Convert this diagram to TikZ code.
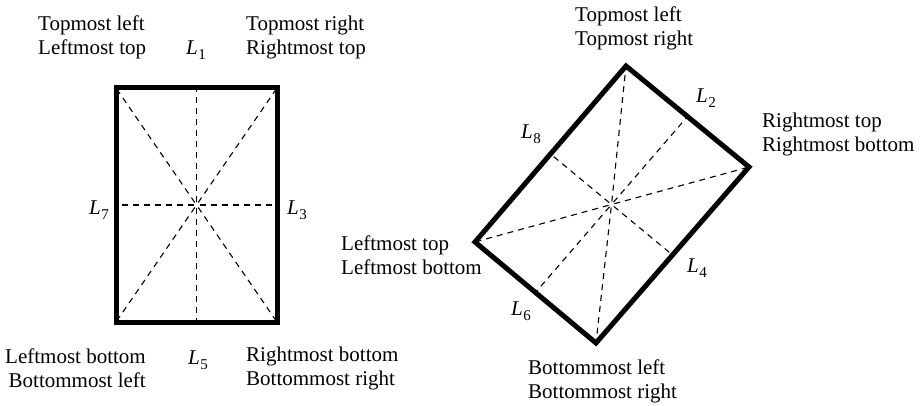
\documentclass[tikz,border=0pt]{standalone}
\usepackage{fontspec}
\setmainfont{Liberation Serif}
\usetikzlibrary{calc}
\newcommand{\Lab}[1]{\textit{L}\kern0.5pt\raisebox{-5pt}{\fontsize{15}{15}\selectfont #1}}
\begin{document}
\begin{tikzpicture}[x=1pt,y=-1pt,
  frame/.style={line width=5pt, line join=miter},
  ray/.style={line width=1.1pt, dash pattern=on 6pt off 5pt},
  lbl/.style={font=\fontsize{21}{24}\selectfont, inner sep=0pt}]
\useasboundingbox (0,0) rectangle (921,406);
% left rectangle
\coordinate (a1) at (116,88);
\coordinate (a2) at (277,88);
\coordinate (a3) at (277,322);
\coordinate (a4) at (116,322);
\coordinate (ac) at (196.5,205);
\coordinate (am1) at (196.5,88);
\coordinate (am3) at (277,205);
\coordinate (am5) at (196.5,322);
\coordinate (am7) at (116,205);
\foreach \t in {a1,a2,a3,a4,am1,am3,am5,am7}
  \draw[ray] ($(ac)!3pt!(\t)$) -- (\t);
\draw[frame] (a1) -- (a2) -- (a3) -- (a4) -- cycle;
% right rectangle
\coordinate (b1) at (626,66);
\coordinate (b2) at (749,167);
\coordinate (b3) at (596,343);
\coordinate (b4) at (475,242);
\coordinate (bc) at (611.5,204.5);
\coordinate (bm2) at ($(b1)!0.5!(b2)$);
\coordinate (bm4) at ($(b2)!0.5!(b3)$);
\coordinate (bm6) at ($(b3)!0.5!(b4)$);
\coordinate (bm8) at ($(b4)!0.5!(b1)$);
\foreach \t in {b1,b2,b3,b4,bm2,bm4,bm6,bm8}
  \draw[ray] ($(bc)!3pt!(\t)$) -- (\t);
\draw[frame] (b1) -- (b2) -- (b3) -- (b4) -- cycle;
% left labels
\node[lbl, align=left, anchor=west] (tl) at (38,37) {Topmost left\\Leftmost top};
\node[lbl] (l1) at (196,50) {\Lab{1}};
\node[lbl, align=left, anchor=west] (tr) at (246,37) {Topmost right\\Rightmost top};
\node[lbl, anchor=east] (l7) at (109,210) {\Lab{7}};
\node[lbl, anchor=west] (l3) at (287,210) {\Lab{3}};
\node[lbl, align=right, anchor=east] (bl) at (146,368) {Leftmost bottom\\Bottommost left};
\node[lbl] (l5) at (198,360) {\Lab{5}};
\node[lbl, align=left, anchor=west] (br) at (246,368) {Rightmost bottom\\Bottommost right};
% right labels
\node[lbl, align=left, anchor=west] (rt) at (575,28) {Topmost left\\Topmost right};
\node[lbl] (l2) at (706,98) {\Lab{2}};
\node[lbl] (l8) at (531,134) {\Lab{8}};
\node[lbl, align=left, anchor=west] (rr) at (762,134) {Rightmost top\\Rightmost bottom};
\node[lbl, align=left, anchor=west] (rl) at (341,255) {Leftmost top\\Leftmost bottom};
\node[lbl] (l4) at (697,268) {\Lab{4}};
\node[lbl] (l6) at (521,311) {\Lab{6}};
\node[lbl, align=left, anchor=west] (rb) at (528,381) {Bottommost left\\Bottommost right};
\end{tikzpicture}
\end{document}
